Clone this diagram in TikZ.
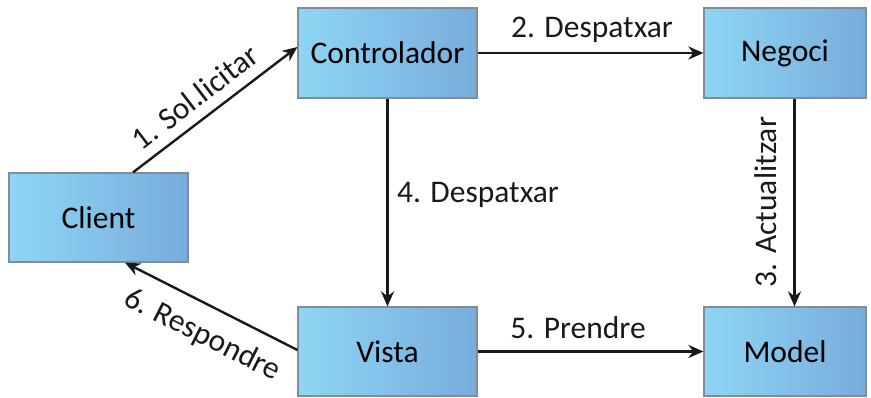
\documentclass[tikz,border=0pt]{standalone}
\usepackage{fontspec}
\setmainfont{Carlito}
\usetikzlibrary{arrows.meta}
\definecolor{boxleft}{RGB}{142,214,244}
\definecolor{boxright}{RGB}{120,172,220}
\definecolor{boxborder}{RGB}{128,140,152}
\tikzset{
  box/.style={rectangle, draw=boxborder, line width=1.2pt, left color=boxleft, right color=boxright,
    inner sep=0pt, font=\fontsize{31.5}{36}\selectfont},
  arr/.style={draw=black!90, line width=2.4pt, -{Stealth[length=15pt,width=13pt]}},
  lbl/.style={font=\fontsize{31.5}{36}\selectfont, inner sep=0pt, text=black!90}
}
\begin{document}
\begin{tikzpicture}[x=1pt,y=-1pt]
\useasboundingbox (0,0) rectangle (871,398);
\node[box, minimum width=179pt, minimum height=89pt] (client) at (98.5,217.5) {Client};
\node[box, minimum width=179pt, minimum height=90pt] (ctrl) at (387.5,53) {Controlador};
\node[box, minimum width=162pt, minimum height=90pt] (negoci) at (785,53) {Negoci};
\node[box, minimum width=179pt, minimum height=89pt] (vista) at (387.5,351.5) {Vista};
\node[box, minimum width=162pt, minimum height=89pt] (model) at (785,351.5) {Model};

\draw[arr] ([xshift=34.5pt]client.north) -- ([yshift=6pt]ctrl.west);
\draw[arr] (ctrl.east) -- (negoci.west);
\draw[arr] ([xshift=9.5pt]negoci.south) -- ([xshift=9.5pt]model.north);
\draw[arr] (ctrl.south) -- (vista.north);
\draw[arr] (vista.east) -- (model.west);
\draw[arr] ([yshift=1.5pt]vista.west) -- ([xshift=26.5pt]client.south);

\node[lbl, rotate=37.5] (l1) at (195,97) {1. Sol.licitar};
\node[lbl] (l2) at (592,30) {2. Despatxar};
\node[lbl, rotate=90] (l3) at (766,202) {3. Actualitzar};
\node[lbl] (l4) at (478,195) {4. Despatxar};
\node[lbl] (l5) at (578,328) {5. Prendre};
\node[lbl, rotate=-26.8] (l6) at (202,335) {6. Respondre};
\end{tikzpicture}
\end{document}
